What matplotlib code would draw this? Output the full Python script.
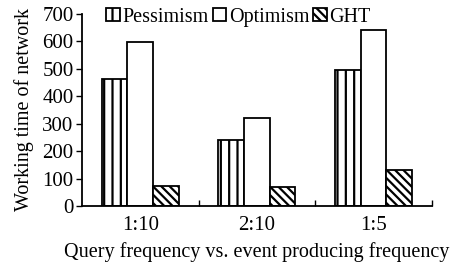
import matplotlib
matplotlib.use("Agg")
import matplotlib.pyplot as plt
import numpy as np
from matplotlib.patches import Patch

plt.rcParams['font.family'] = ['Liberation Serif', 'DejaVu Serif']
plt.rcParams['hatch.linewidth'] = 1.6

categories = ["1:10", "2:10", "1:5"]
series_names = ["Pessimism", "Optimism", "GHT"]
pessimism = [463, 242, 495]
optimism = [598, 320, 642]
ght = [73, 68, 133]
yticks = [0, 100, 200, 300, 400, 500, 600, 700]

fig = plt.figure(figsize=(4.57, 2.63), dpi=100)
ax = fig.add_axes([0.1794, 0.2167, 0.7659, 0.7301])

x = np.arange(len(categories))
w = 0.22
hatches = ["||", "", "\\\\\\\\"]
for i, (vals, h) in enumerate(zip([pessimism, optimism, ght], hatches)):
    ax.bar(x + (i - 1) * w, vals, width=w, facecolor="white", edgecolor="black",
           linewidth=1.3, hatch=h, zorder=2)

ax.set_xlim(-0.5, 2.5)
ax.set_ylim(0, 700)
ax.set_yticks(yticks)
ax.set_xticks(x)
ax.set_xticklabels(categories)
ax.set_xticks([0.5, 1.5, 2.5], minor=True)
ax.tick_params(axis="x", which="major", length=0, labelsize=15, pad=7)
ax.tick_params(axis="x", which="minor", direction="in", length=4, width=1)
ax.tick_params(axis="y", direction="out", length=4, width=1, labelsize=15, pad=2)
for s in ["top", "right"]:
    ax.spines[s].set_visible(False)
for s in ["left", "bottom"]:
    ax.spines[s].set_linewidth(1.3)

ax.set_ylabel("Working time of network", fontsize=14.5, labelpad=6)
ax.set_xlabel("Query frequency vs. event producing frequency", fontsize=14.5, labelpad=5)

handles = [Patch(facecolor="white", edgecolor="black", hatch=h, linewidth=1.3) for h in hatches]
fig.legend(handles, series_names, loc="upper left", bbox_to_anchor=(0.202, 1.025),
           ncol=3, frameon=False, fontsize=14.5, handlelength=0.65, handleheight=0.65,
           handletextpad=0.15, columnspacing=0.2, borderpad=0.2)

fig.savefig("out.png", dpi=100)
